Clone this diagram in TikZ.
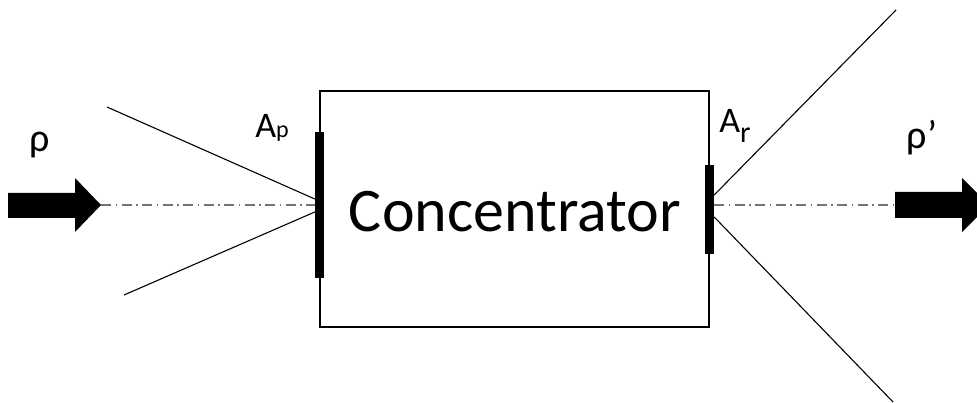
\documentclass[tikz,border=0pt]{standalone}
\usepackage{fontspec}
\setmainfont{Carlito}
\begin{document}
\begin{tikzpicture}[x=1pt,y=-1pt,
  ray/.style={draw=black, line width=1.1pt},
  axisline/.style={draw=black!55, line width=1.4pt,
    dash pattern=on 10pt off 4.5pt on 1.5pt off 4.5pt},
  aperture/.style={fill=black, inner sep=0pt, minimum width=9pt},
  flow/.style={fill=black},
  lbl/.style={font=\fontsize{36}{40}\selectfont, inner sep=0pt, anchor=base},
  greek/.style={font=\fontsize{40}{44}\selectfont, inner sep=0pt, anchor=base}]
\useasboundingbox (0,0) rectangle (977,403);
\clip (0,0) rectangle (977,403);

% concentrator body and its name
\node[draw, line width=2pt, inner sep=0pt, minimum width=389.5pt,
      minimum height=236pt] (conc) at (514.25,209) {};
\node[font=\fontsize{62}{70}\selectfont, inner sep=0pt, anchor=base]
      (name) at (515,232) {Concentrator};

% entrance and exit apertures
\node[aperture, minimum height=146pt] (pbar) at (319.5,205.5) {};
\node[aperture, minimum height=89pt] (rbar) at (709.5,209.5) {};

% acceptance and exit cones
\coordinate (inTop) at (107,107);
\coordinate (inBot) at (124,295);
\coordinate (outTop) at (896,10);
\coordinate (outBot) at (893,402);
\draw[ray] (inTop) -- ([yshift=6.5pt]pbar.west);
\draw[ray] (inBot) -- ([yshift=-6.5pt]pbar.west);
\draw[ray] ([yshift=14.5pt]rbar.east) -- (outTop);
\draw[ray] ([yshift=-7.5pt]rbar.east) -- (outBot);

% optical axis
\coordinate (axL) at (101,205);
\coordinate (axR) at (895,205);
\draw[axisline] (axL) -- (axL -| pbar.west);
\draw[axisline] (axL -| rbar.east) -- (axR);

% incoming and outgoing flux arrows
\fill[flow] (8,193) -- (75,193) -- (75,178) -- (axL) -- (75,232)
  -- (75,218) -- (8,218) -- cycle;
\fill[flow] (axR) ++(0,-13) -- (962,192) -- (962,178) -- (989,205)
  -- (962,232) -- (962,218) -- (895,218) -- cycle;

% labels
\node[greek] (rhoIn) at (40,152) {ρ};
\node[greek] (rhoOut) at (922,149) {ρ’};
\node[lbl] (Ap) at (272,138) {A{\fontsize{24}{24}\selectfont p}};
\node[lbl] (Ar) at (735,133) {A\raisebox{-10pt}{\fontsize{30}{30}\selectfont r}};
\end{tikzpicture}
\end{document}
